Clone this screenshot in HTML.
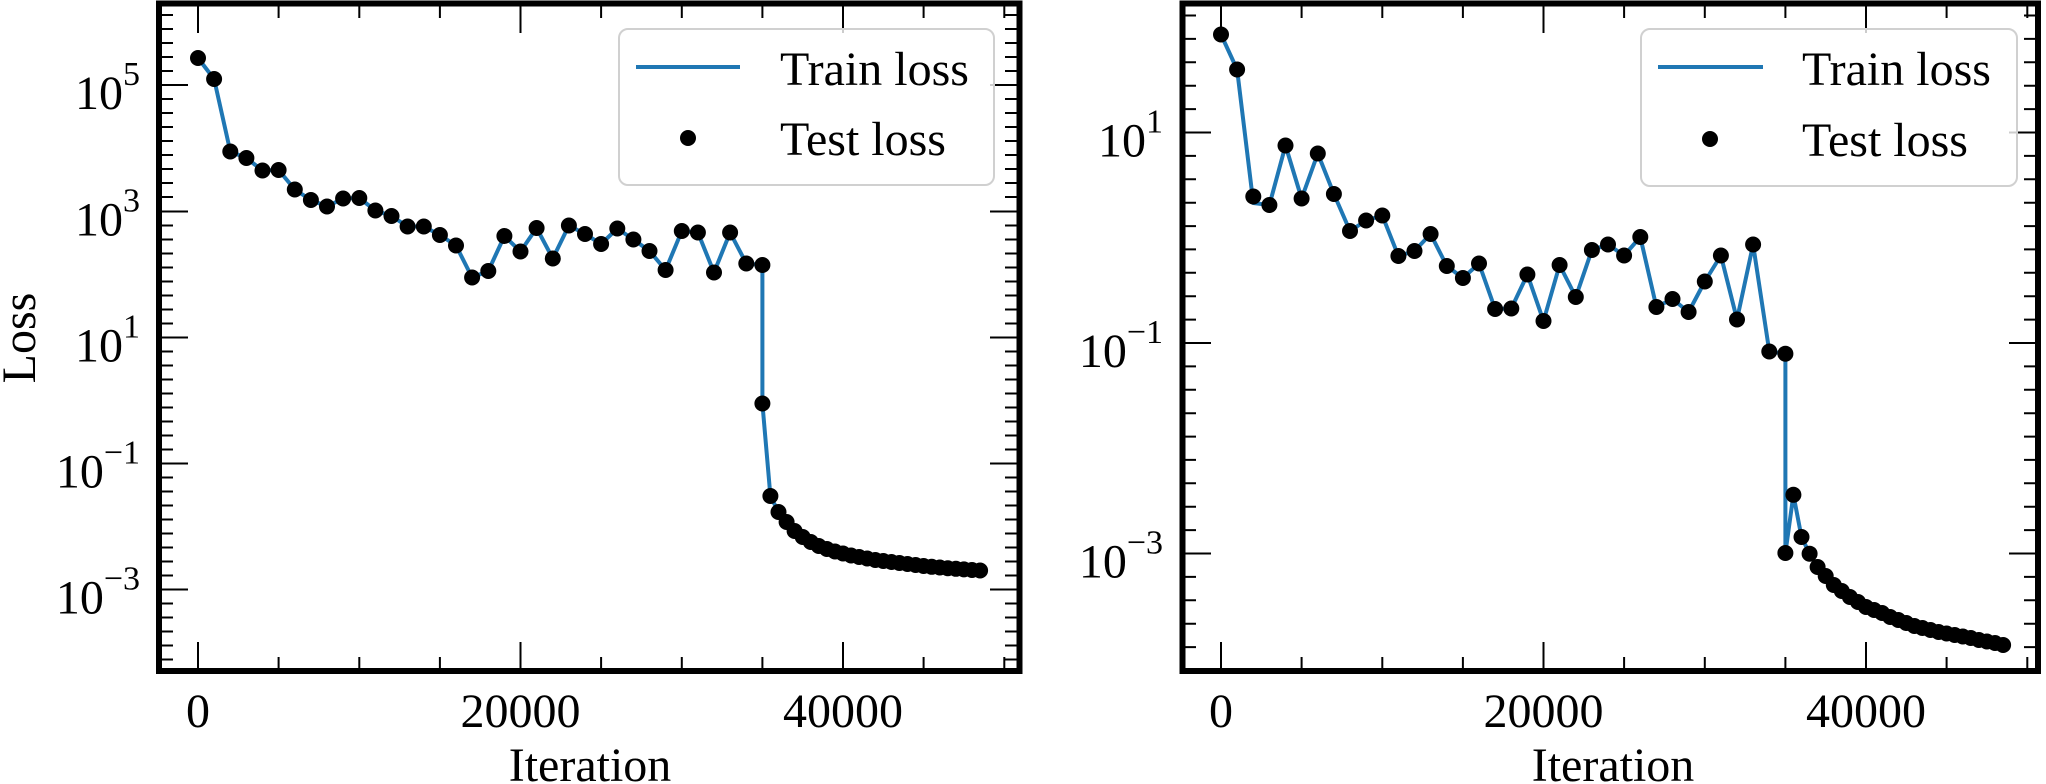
<!DOCTYPE html>
<html><head><meta charset="utf-8"><style>
html,body{margin:0;padding:0;background:#fff;}
svg{display:block;font-family:"Liberation Serif","DejaVu Serif",serif;}
</style></head><body>
<svg width="2046" height="784" viewBox="0 0 2046 784" xmlns="http://www.w3.org/2000/svg">
<defs>
<clipPath id="c1"><rect x="159" y="4" width="860" height="667"/></clipPath>
<clipPath id="c2"><rect x="1182" y="4" width="856" height="667"/></clipPath>
</defs>

<!-- LEFT PANEL -->
<g stroke="#000" stroke-width="2" fill="none" clip-path="url(#c1)">
<!-- x major ticks bottom/top -->
<path d="M198 671v-29M520.5 671v-29M843 671v-29M198 4v29M520.5 4v29M843 4v29"/>
<path d="M278.6 671v-14M359.3 671v-14M439.9 671v-14M601.1 671v-14M681.8 671v-14M762.4 671v-14M923.6 671v-14M1004.3 671v-14M278.6 4v14M359.3 4v14M439.9 4v14M601.1 4v14M681.8 4v14M762.4 4v14M923.6 4v14M1004.3 4v14"/>
<!-- y major -->
<path d="M159 85h29M159 211.5h29M159 337.5h29M159 463.5h29M159 589.5h29M1019 85h-29M1019 211.5h-29M1019 337.5h-29M1019 463.5h-29M1019 589.5h-29"/>
<!-- y minor -->
<path d="M159 15h14M159 29h14M159 43h14M159 57h14M159 71h14M159 99h14M159 113h14M159 127h14M159 141h14M159 155h14M159 169h14M159 183h14M159 197h14M159 225.5h14M159 239.5h14M159 253.5h14M159 267.5h14M159 281.5h14M159 295.5h14M159 309.5h14M159 323.5h14M159 351.5h14M159 365.5h14M159 379.5h14M159 393.5h14M159 407.5h14M159 421.5h14M159 435.5h14M159 449.5h14M159 477.5h14M159 491.5h14M159 505.5h14M159 519.5h14M159 533.5h14M159 547.5h14M159 561.5h14M159 575.5h14M159 603.5h14M159 617.5h14M159 631.5h14M159 645.5h14M159 659.5h14"/>
<path d="M1019 15h-14M1019 29h-14M1019 43h-14M1019 57h-14M1019 71h-14M1019 99h-14M1019 113h-14M1019 127h-14M1019 141h-14M1019 155h-14M1019 169h-14M1019 183h-14M1019 197h-14M1019 225.5h-14M1019 239.5h-14M1019 253.5h-14M1019 267.5h-14M1019 281.5h-14M1019 295.5h-14M1019 309.5h-14M1019 323.5h-14M1019 351.5h-14M1019 365.5h-14M1019 379.5h-14M1019 393.5h-14M1019 407.5h-14M1019 421.5h-14M1019 435.5h-14M1019 449.5h-14M1019 477.5h-14M1019 491.5h-14M1019 505.5h-14M1019 519.5h-14M1019 533.5h-14M1019 547.5h-14M1019 561.5h-14M1019 575.5h-14M1019 603.5h-14M1019 617.5h-14M1019 631.5h-14M1019 645.5h-14M1019 659.5h-14"/>
</g>
<g clip-path="url(#c1)">
<polyline fill="none" stroke="#1f77b4" stroke-width="4" stroke-linejoin="round" points="198,58 214.1,79 230.3,151.5 246.4,158 262.5,170.5 278.6,170 294.8,189.5 310.9,200 327,206.5 343.1,198.5 359.3,198 375.4,210.5 391.5,216 407.6,226.5 423.8,226.5 439.9,235 456,245.5 472.1,277.5 488.3,271 504.4,236 520.5,251.5 536.6,228 552.8,258.5 568.9,225.5 585,234 601.1,244 617.3,228.5 633.4,239.5 649.5,251 665.6,270 681.8,231 697.9,232.5 714,272.5 730.1,232.5 746.3,263.5 762.4,265 762.4,403.5 770.4,496 778.5,512 786.6,522 794.6,531 802.7,537 810.8,542 818.8,546 826.9,549 835,551.5 843,553.5 851.1,555.5 859.1,557 867.2,558.5 875.3,560 883.3,561 891.4,562 899.4,563 907.5,564 915.6,565 923.6,566 931.7,566.8 939.8,567.5 947.8,568.2 955.9,568.8 963.9,569.4 972,570 980.1,570.5"/>
<g fill="#000">
<circle cx="198" cy="58" r="8"/><circle cx="214.1" cy="79" r="8"/><circle cx="230.3" cy="151.5" r="8"/><circle cx="246.4" cy="158" r="8"/><circle cx="262.5" cy="170.5" r="8"/><circle cx="278.6" cy="170" r="8"/><circle cx="294.8" cy="189.5" r="8"/><circle cx="310.9" cy="200" r="8"/><circle cx="327" cy="206.5" r="8"/><circle cx="343.1" cy="198.5" r="8"/><circle cx="359.3" cy="198" r="8"/><circle cx="375.4" cy="210.5" r="8"/><circle cx="391.5" cy="216" r="8"/><circle cx="407.6" cy="226.5" r="8"/><circle cx="423.8" cy="226.5" r="8"/><circle cx="439.9" cy="235" r="8"/><circle cx="456" cy="245.5" r="8"/><circle cx="472.1" cy="277.5" r="8"/><circle cx="488.3" cy="271" r="8"/><circle cx="504.4" cy="236" r="8"/><circle cx="520.5" cy="251.5" r="8"/><circle cx="536.6" cy="228" r="8"/><circle cx="552.8" cy="258.5" r="8"/><circle cx="568.9" cy="225.5" r="8"/><circle cx="585" cy="234" r="8"/><circle cx="601.1" cy="244" r="8"/><circle cx="617.3" cy="228.5" r="8"/><circle cx="633.4" cy="239.5" r="8"/><circle cx="649.5" cy="251" r="8"/><circle cx="665.6" cy="270" r="8"/><circle cx="681.8" cy="231" r="8"/><circle cx="697.9" cy="232.5" r="8"/><circle cx="714" cy="272.5" r="8"/><circle cx="730.1" cy="232.5" r="8"/><circle cx="746.3" cy="263.5" r="8"/><circle cx="762.4" cy="265" r="8"/><circle cx="762.4" cy="403.5" r="8"/><circle cx="770.4" cy="496" r="8"/><circle cx="778.5" cy="512" r="8"/><circle cx="786.6" cy="522" r="8"/><circle cx="794.6" cy="531" r="8"/><circle cx="802.7" cy="537" r="8"/><circle cx="810.8" cy="542" r="8"/><circle cx="818.8" cy="546" r="8"/><circle cx="826.9" cy="549" r="8"/><circle cx="835" cy="551.5" r="8"/><circle cx="843" cy="553.5" r="8"/><circle cx="851.1" cy="555.5" r="8"/><circle cx="859.1" cy="557" r="8"/><circle cx="867.2" cy="558.5" r="8"/><circle cx="875.3" cy="560" r="8"/><circle cx="883.3" cy="561" r="8"/><circle cx="891.4" cy="562" r="8"/><circle cx="899.4" cy="563" r="8"/><circle cx="907.5" cy="564" r="8"/><circle cx="915.6" cy="565" r="8"/><circle cx="923.6" cy="566" r="8"/><circle cx="931.7" cy="566.8" r="8"/><circle cx="939.8" cy="567.5" r="8"/><circle cx="947.8" cy="568.2" r="8"/><circle cx="955.9" cy="568.8" r="8"/><circle cx="963.9" cy="569.4" r="8"/><circle cx="972" cy="570" r="8"/><circle cx="980.1" cy="570.5" r="8"/>
</g>
</g>
<rect x="159" y="3.5" width="860.5" height="667.5" fill="none" stroke="#000" stroke-width="6"/>
<!-- legend left -->
<rect x="619" y="29" width="375" height="156" rx="9" fill="#fff" fill-opacity="0.8" stroke="#d0d0d0" stroke-width="2"/>
<line x1="636" y1="67" x2="740" y2="67" stroke="#1f77b4" stroke-width="4"/>
<circle cx="688" cy="138" r="8" fill="#000"/>
<g font-size="48" fill="#000">
<text x="780" y="85">Train loss</text>
<text x="780" y="155">Test loss</text>
</g>
<!-- left tick labels -->
<g font-size="48" fill="#000" text-anchor="middle">
<text x="198" y="727">0</text>
<text x="520.5" y="727">20000</text>
<text x="843" y="727">40000</text>
<text x="590" y="781">Iteration</text>
</g>
<g font-size="48" fill="#000" text-anchor="end">
<text x="140" y="109">10<tspan dy="-24" font-size="34">5</tspan></text>
<text x="140" y="235.5">10<tspan dy="-24" font-size="34">3</tspan></text>
<text x="140" y="361.5">10<tspan dy="-24" font-size="34">1</tspan></text>
<text x="140" y="487.5">10<tspan dy="-24" font-size="34">−1</tspan></text>
<text x="140" y="613.5">10<tspan dy="-24" font-size="34">−3</tspan></text>
</g>
<text x="35" y="338" font-size="48" text-anchor="middle" transform="rotate(-90 35 338)">Loss</text>

<!-- RIGHT PANEL -->
<g stroke="#000" stroke-width="2" fill="none" clip-path="url(#c2)">
<path d="M1221 671v-29M1543.5 671v-29M1866 671v-29M1221 4v29M1543.5 4v29M1866 4v29"/>
<path d="M1301.6 671v-14M1382.3 671v-14M1462.9 671v-14M1624.1 671v-14M1704.8 671v-14M1785.4 671v-14M1946.6 671v-14M2027.3 671v-14M1301.6 4v14M1382.3 4v14M1462.9 4v14M1624.1 4v14M1704.8 4v14M1785.4 4v14M1946.6 4v14M2027.3 4v14"/>
<path d="M1182 132.5h29M1182 343h29M1182 553.5h29M2038 132.5h-29M2038 343h-29M2038 553.5h-29"/>
<path d="M1182 15.5h14M1182 38.9h14M1182 62.3h14M1182 85.7h14M1182 109.1h14M1182 155.9h14M1182 179.3h14M1182 202.7h14M1182 226.1h14M1182 249.4h14M1182 272.8h14M1182 296.2h14M1182 319.6h14M1182 366.4h14M1182 389.8h14M1182 413.2h14M1182 436.6h14M1182 459.9h14M1182 483.3h14M1182 506.7h14M1182 530.1h14M1182 576.9h14M1182 600.3h14M1182 623.7h14M1182 647.1h14"/>
<path d="M2038 15.5h-14M2038 38.9h-14M2038 62.3h-14M2038 85.7h-14M2038 109.1h-14M2038 155.9h-14M2038 179.3h-14M2038 202.7h-14M2038 226.1h-14M2038 249.4h-14M2038 272.8h-14M2038 296.2h-14M2038 319.6h-14M2038 366.4h-14M2038 389.8h-14M2038 413.2h-14M2038 436.6h-14M2038 459.9h-14M2038 483.3h-14M2038 506.7h-14M2038 530.1h-14M2038 576.9h-14M2038 600.3h-14M2038 623.7h-14M2038 647.1h-14"/>
</g>
<g clip-path="url(#c2)">
<polyline fill="none" stroke="#1f77b4" stroke-width="4" stroke-linejoin="round" points="1221,34.5 1237.1,69.5 1253.3,203 1269.4,205 1285.5,145.5 1301.6,198.5 1317.8,153.5 1333.9,194 1350,231 1366.1,220.5 1382.3,215.5 1398.4,256 1414.5,251 1430.6,234 1446.8,266 1462.9,278 1479,263.5 1495.1,309 1511.3,308.5 1527.4,274.5 1543.5,321 1559.6,265 1575.8,297 1591.9,250 1608,244.5 1624.1,255.5 1640.3,237 1656.4,307 1672.5,299 1688.6,312 1704.8,281.5 1720.9,255.5 1737,319.5 1753.1,244.5 1769.3,351.5 1785.4,353.7 1785.4,553 1793.4,494.8 1801.5,537 1809.6,553.7 1817.6,567 1825.7,576 1833.8,585 1841.8,591 1849.9,597 1858,602 1866,607 1874.1,610 1882.1,613 1890.2,617 1898.3,620 1906.3,623 1914.4,626 1922.4,628 1930.5,630 1938.6,632 1946.6,633.5 1954.7,635 1962.8,636.5 1970.8,638 1978.9,640 1986.9,641.5 1995,643 2003.1,645"/>
<g fill="#000">
<circle cx="1221" cy="34.5" r="8"/><circle cx="1237.1" cy="69.5" r="8"/><circle cx="1253.3" cy="196.5" r="8"/><circle cx="1269.4" cy="205" r="8"/><circle cx="1285.5" cy="145.5" r="8"/><circle cx="1301.6" cy="198.5" r="8"/><circle cx="1317.8" cy="153.5" r="8"/><circle cx="1333.9" cy="194" r="8"/><circle cx="1350" cy="231" r="8"/><circle cx="1366.1" cy="220.5" r="8"/><circle cx="1382.3" cy="215.5" r="8"/><circle cx="1398.4" cy="256" r="8"/><circle cx="1414.5" cy="251" r="8"/><circle cx="1430.6" cy="234" r="8"/><circle cx="1446.8" cy="266" r="8"/><circle cx="1462.9" cy="278" r="8"/><circle cx="1479" cy="263.5" r="8"/><circle cx="1495.1" cy="309" r="8"/><circle cx="1511.3" cy="308.5" r="8"/><circle cx="1527.4" cy="274.5" r="8"/><circle cx="1543.5" cy="321" r="8"/><circle cx="1559.6" cy="265" r="8"/><circle cx="1575.8" cy="297" r="8"/><circle cx="1591.9" cy="250" r="8"/><circle cx="1608" cy="244.5" r="8"/><circle cx="1624.1" cy="255.5" r="8"/><circle cx="1640.3" cy="237" r="8"/><circle cx="1656.4" cy="307" r="8"/><circle cx="1672.5" cy="299" r="8"/><circle cx="1688.6" cy="312" r="8"/><circle cx="1704.8" cy="281.5" r="8"/><circle cx="1720.9" cy="255.5" r="8"/><circle cx="1737" cy="319.5" r="8"/><circle cx="1753.1" cy="244.5" r="8"/><circle cx="1769.3" cy="351.5" r="8"/><circle cx="1785.4" cy="353.7" r="8"/><circle cx="1785.4" cy="553" r="8"/><circle cx="1793.4" cy="494.8" r="8"/><circle cx="1801.5" cy="537" r="8"/><circle cx="1809.6" cy="553.7" r="8"/><circle cx="1817.6" cy="567" r="8"/><circle cx="1825.7" cy="576" r="8"/><circle cx="1833.8" cy="585" r="8"/><circle cx="1841.8" cy="591" r="8"/><circle cx="1849.9" cy="597" r="8"/><circle cx="1858" cy="602" r="8"/><circle cx="1866" cy="607" r="8"/><circle cx="1874.1" cy="610" r="8"/><circle cx="1882.1" cy="613" r="8"/><circle cx="1890.2" cy="617" r="8"/><circle cx="1898.3" cy="620" r="8"/><circle cx="1906.3" cy="623" r="8"/><circle cx="1914.4" cy="626" r="8"/><circle cx="1922.4" cy="628" r="8"/><circle cx="1930.5" cy="630" r="8"/><circle cx="1938.6" cy="632" r="8"/><circle cx="1946.6" cy="633.5" r="8"/><circle cx="1954.7" cy="635" r="8"/><circle cx="1962.8" cy="636.5" r="8"/><circle cx="1970.8" cy="638" r="8"/><circle cx="1978.9" cy="640" r="8"/><circle cx="1986.9" cy="641.5" r="8"/><circle cx="1995" cy="643" r="8"/><circle cx="2003.1" cy="645" r="8"/>
</g>
</g>
<rect x="1182.5" y="3.5" width="855.5" height="667.5" fill="none" stroke="#000" stroke-width="6"/>
<!-- legend right -->
<rect x="1641" y="29" width="376" height="157" rx="9" fill="#fff" fill-opacity="0.8" stroke="#d0d0d0" stroke-width="2"/>
<line x1="1658" y1="67" x2="1763" y2="67" stroke="#1f77b4" stroke-width="4"/>
<circle cx="1710" cy="139" r="8" fill="#000"/>
<g font-size="48" fill="#000">
<text x="1802" y="85">Train loss</text>
<text x="1802" y="156">Test loss</text>
</g>
<g font-size="48" fill="#000" text-anchor="middle">
<text x="1221" y="727">0</text>
<text x="1543.5" y="727">20000</text>
<text x="1866" y="727">40000</text>
<text x="1613" y="781">Iteration</text>
</g>
<g font-size="48" fill="#000" text-anchor="end">
<text x="1163" y="156.5">10<tspan dy="-24" font-size="34">1</tspan></text>
<text x="1163" y="367">10<tspan dy="-24" font-size="34">−1</tspan></text>
<text x="1163" y="577.5">10<tspan dy="-24" font-size="34">−3</tspan></text>
</g>
</svg>
</body></html>
